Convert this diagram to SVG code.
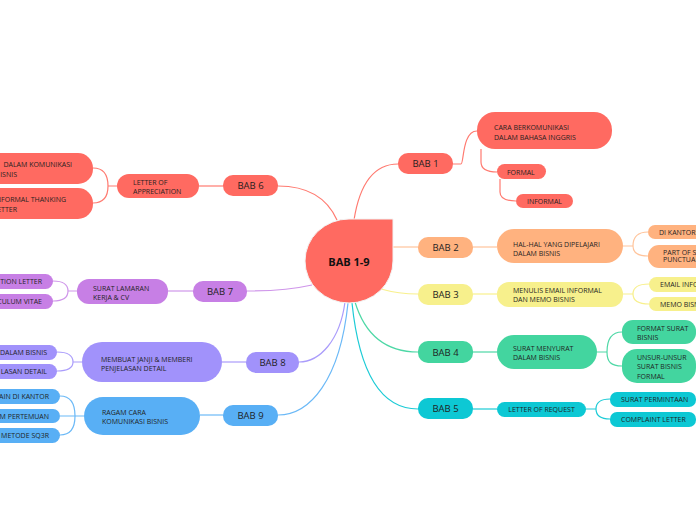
<svg xmlns="http://www.w3.org/2000/svg" width="696" height="520" viewBox="0 0 696 520">
<style>
text{font-family:"Open Sans","Noto Sans","Liberation Sans",sans-serif;fill:#1f1f1f}
.b{font-size:9.5px;text-anchor:middle;dominant-baseline:central}
.s{font-size:7px}
.c1{fill:#ff6a61}.c2{fill:#ffb27f}.c3{fill:#f7f08c}.c4{fill:#43d59f}.c5{fill:#0dc8d4}.c7{fill:#c77fe5}.c8{fill:#a192fb}.c9{fill:#58aff5}
.l{fill:none;stroke-width:1.2}
.k1{stroke:#ff7a70}.k2{stroke:#ffc49b}.k3{stroke:#f8f08c}.k4{stroke:#4ed8a6}.k5{stroke:#1ccbd6}.k7{stroke:#cf96ea}.k8{stroke:#aa9cfb}.k9{stroke:#6bb9f7}
</style>
<rect width="696" height="520" fill="#ffffff"/>
<g id="connectors">
<path class="l k1" d="M354 220 C360 182,375 164,398 164"/>
<path class="l k1" d="M453 164 H461 C464 164,462 131,477 131"/>
<path class="l k1" d="M481 149 V162 C481 168,486 172,497 172"/>
<path class="l k1" d="M500 179 V192 C500 198,505 201,516 201"/>
<path class="l k2" d="M393 247 H418"/>
<path class="l k2" d="M473 247 H497"/>
<path class="l k2" d="M623 246 H633 M633 246 C633 236,638 232,648 232 M633 246 C633 252,638 256,648 256"/>
<path class="l k3" d="M381 289 C395 293,405 294,418 294"/>
<path class="l k3" d="M473 294 H497"/>
<path class="l k3" d="M623 294 H633 M633 294 C633 288,638 284,649 284 M633 294 C633 300,638 304,649 304"/>
<path class="l k4" d="M355 302 C365 335,385 352,418 352"/>
<path class="l k4" d="M473 352 H497"/>
<path class="l k4" d="M597 352 H607 M607 352 C607 340,611 332,622 332 M607 352 C607 362,611 366,622 366"/>
<path class="l k5" d="M352 303 C360 380,385 409,418 409"/>
<path class="l k5" d="M473 409 H497"/>
<path class="l k5" d="M586 409 H596 M596 409 C596 403,600 399,610 399 M596 409 C596 415,600 419,610 419"/>
<path class="l k1" d="M337 220 C328 200,310 186,278 186"/>
<path class="l k1" d="M223 186 H199"/>
<path class="l k1" d="M117 186 H108 M108 186 C108 174,103 168,93 168 M108 186 C108 198,103 203,93 203"/>
<path class="l k7" d="M312 285 C290 290,270 291,247 291"/>
<path class="l k7" d="M193 291 H168"/>
<path class="l k7" d="M77 291 H68 M68 291 C68 285,63 281,53 281 M68 291 C68 297,63 301,53 301"/>
<path class="l k8" d="M345 302 C340 340,320 362,299 362"/>
<path class="l k8" d="M246 362 H222"/>
<path class="l k8" d="M82 362 H73 M73 362 C73 356,68 352,57 352 M73 362 C73 368,68 371,57 371"/>
<path class="l k9" d="M348 303 C340 380,310 415,278 415"/>
<path class="l k9" d="M223 415 H200"/>
<path class="l k9" d="M84 416 H60 M75 416 C75 402,70 396,60 396 M75 416 C75 429,70 435,60 435"/>
</g>
<g id="root">
<path class="c1" d="M393 219 V261 A44 42 0 0 1 349 303 A44 42 0 0 1 305 261 A44 42 0 0 1 349 219 Z" stroke="#f3f3f3" stroke-width="1"/>
<text x="349" y="261" style="font-size:11px;font-weight:bold;text-anchor:middle;dominant-baseline:central;fill:#111">BAB 1-9</text>
</g>
<g id="bab1">
<rect class="c1" x="398" y="153" width="55" height="21" rx="10"/><text class="b" x="425.5" y="163.5">BAB 1</text>
</g>
<g id="bab1-a">
<rect class="c1" x="477" y="112" width="135" height="37" rx="18"/>
<text class="s" x="494" y="130">CARA BERKOMUNIKASI</text><text class="s" x="494" y="140">DALAM BAHASA INGGRIS</text>
</g>
<g id="bab1-b"><rect class="c1" x="497" y="164" width="49" height="15" rx="7.5"/><text class="s" x="507" y="174.5">FORMAL</text></g>
<g id="bab1-c"><rect class="c1" x="516" y="194" width="57" height="14" rx="7"/><text class="s" x="527" y="203.5">INFORMAL</text></g>
<g id="bab2">
<rect class="c2" x="418" y="237" width="55" height="21" rx="10"/><text class="b" x="445.5" y="247.5">BAB 2</text>
</g>
<g id="bab2-a">
<rect class="c2" x="497" y="229" width="126" height="34" rx="17"/>
<text class="s" x="513" y="246.5">HAL-HAL YANG DIPELAJARI</text><text class="s" x="513" y="255.5">DALAM BISNIS</text>
</g>
<g id="bab2-b"><rect class="c2" x="648" y="225" width="70" height="14" rx="7"/><text class="s" x="659" y="234.5">DI KANTOR</text></g>
<g id="bab2-c"><rect class="c2" x="648" y="245" width="70" height="23" rx="11"/><text class="s" x="663" y="254.5">PART OF S</text><text class="s" x="663" y="262">PUNCTUA</text></g>
<g id="bab3">
<rect class="c3" x="418" y="284" width="55" height="21" rx="10"/><text class="b" x="445.5" y="294.5">BAB 3</text>
</g>
<g id="bab3-a">
<rect class="c3" x="497" y="282" width="126" height="25" rx="12"/>
<text class="s" x="513" y="292.5">MENULIS EMAIL INFORMAL</text><text class="s" x="513" y="301.5">DAN MEMO BISNIS</text>
</g>
<g id="bab3-b"><rect class="c3" x="649" y="277" width="70" height="15" rx="7.5"/><text class="s" x="660" y="287">EMAIL INFO</text></g>
<g id="bab3-c"><rect class="c3" x="649" y="297" width="70" height="14" rx="7"/><text class="s" x="660" y="306.5">MEMO BISN</text></g>
<g id="bab4">
<rect class="c4" x="418" y="341" width="55" height="22" rx="10"/><text class="b" x="445.5" y="352">BAB 4</text>
</g>
<g id="bab4-a">
<rect class="c4" x="497" y="335" width="100" height="34" rx="17"/>
<text class="s" x="513" y="350.5">SURAT MENYURAT</text><text class="s" x="513" y="359.5">DALAM BISNIS</text>
</g>
<g id="bab4-b"><rect class="c4" x="622" y="320" width="74" height="24" rx="11"/><text class="s" x="637" y="330.5">FORMAT SURAT</text><text class="s" x="637" y="339.5">BISNIS</text></g>
<g id="bab4-c"><rect class="c4" x="622" y="349" width="74" height="34" rx="15"/><text class="s" x="637" y="359.5">UNSUR-UNSUR</text><text class="s" x="637" y="369">SURAT BISNIS</text><text class="s" x="637" y="378.5">FORMAL</text></g>
<g id="bab5">
<rect class="c5" x="418" y="398" width="55" height="21" rx="10"/><text class="b" x="445.5" y="408.5">BAB 5</text>
</g>
<g id="bab5-a"><rect class="c5" x="497" y="402" width="89" height="15" rx="7.5"/><text class="s" x="541.5" y="412" text-anchor="middle">LETTER OF REQUEST</text></g>
<g id="bab5-b"><rect class="c5" x="610" y="392" width="86" height="15" rx="7"/><text class="s" x="621" y="402">SURAT PERMINTAAN</text></g>
<g id="bab5-c"><rect class="c5" x="610" y="412" width="86" height="15" rx="7"/><text class="s" x="621" y="422">COMPLAINT LETTER</text></g>
<g id="bab6">
<rect class="c1" x="223" y="175" width="55" height="21" rx="10"/><text class="b" x="250.5" y="185.5">BAB 6</text>
</g>
<g id="bab6-a">
<rect class="c1" x="117" y="174" width="82" height="24" rx="12"/>
<text class="s" x="133" y="184.5">LETTER OF</text><text class="s" x="133" y="193.5">APPRECIATION</text>
</g>
<g id="bab6-b"><rect class="c1" x="-20" y="153" width="113" height="31" rx="15"/><text class="s" x="72" y="166.5" text-anchor="end">DALAM KOMUNIKASI</text><text class="s" x="17" y="176.5" text-anchor="end">ISNIS</text></g>
<g id="bab6-c"><rect class="c1" x="-20" y="188" width="113" height="31" rx="15"/><text class="s" x="66" y="201.5" text-anchor="end">INFORMAL THANKING</text><text class="s" x="17" y="211.5" text-anchor="end">ETTER</text></g>
<g id="bab7">
<rect class="c7" x="193" y="281" width="54" height="21" rx="10"/><text class="b" x="220" y="291.5">BAB 7</text>
</g>
<g id="bab7-a">
<rect class="c7" x="77" y="279" width="91" height="25" rx="12"/>
<text class="s" x="93" y="290.5">SURAT LAMARAN</text><text class="s" x="93" y="299.5">KERJA &amp; CV</text>
</g>
<g id="bab7-b"><rect class="c7" x="-20" y="274" width="73" height="15" rx="7.5"/><text class="s" x="42" y="284" text-anchor="end">TION LETTER</text></g>
<g id="bab7-c"><rect class="c7" x="-20" y="294" width="73" height="15" rx="7.5"/><text class="s" x="42" y="304" text-anchor="end">CULUM VITAE</text></g>
<g id="bab8">
<rect class="c8" x="246" y="352" width="53" height="21" rx="10"/><text class="b" x="272.5" y="362.5">BAB 8</text>
</g>
<g id="bab8-a">
<rect class="c8" x="82" y="342" width="140" height="40" rx="20"/>
<text class="s" x="101" y="361.5">MEMBUAT JANJI &amp; MEMBERI</text><text class="s" x="101" y="370.5">PENJELASAN DETAIL</text>
</g>
<g id="bab8-b"><rect class="c8" x="-20" y="345" width="77" height="15" rx="7.5"/><text class="s" x="47" y="355" text-anchor="end">DALAM BISNIS</text></g>
<g id="bab8-c"><rect class="c8" x="-20" y="364" width="77" height="15" rx="7.5"/><text class="s" x="47" y="374" text-anchor="end">LASAN DETAIL</text></g>
<g id="bab9">
<rect class="c9" x="223" y="405" width="55" height="21" rx="10"/><text class="b" x="250.5" y="415.5">BAB 9</text>
</g>
<g id="bab9-a">
<rect class="c9" x="84" y="397" width="116" height="38" rx="19"/>
<text class="s" x="102" y="414.5">RAGAM CARA</text><text class="s" x="102" y="423.5">KOMUNIKASI BISNIS</text>
</g>
<g id="bab9-b"><rect class="c9" x="-20" y="389" width="80" height="15" rx="7.5"/><text class="s" x="49" y="399" text-anchor="end">AIN DI KANTOR</text></g>
<g id="bab9-c"><rect class="c9" x="-20" y="409" width="80" height="14" rx="7"/><text class="s" x="49" y="418.5" text-anchor="end">M PERTEMUAN</text></g>
<g id="bab9-d"><rect class="c9" x="-20" y="428" width="80" height="15" rx="7.5"/><text class="s" x="49" y="438" text-anchor="end">METODE SQ3R</text></g>
</svg>
